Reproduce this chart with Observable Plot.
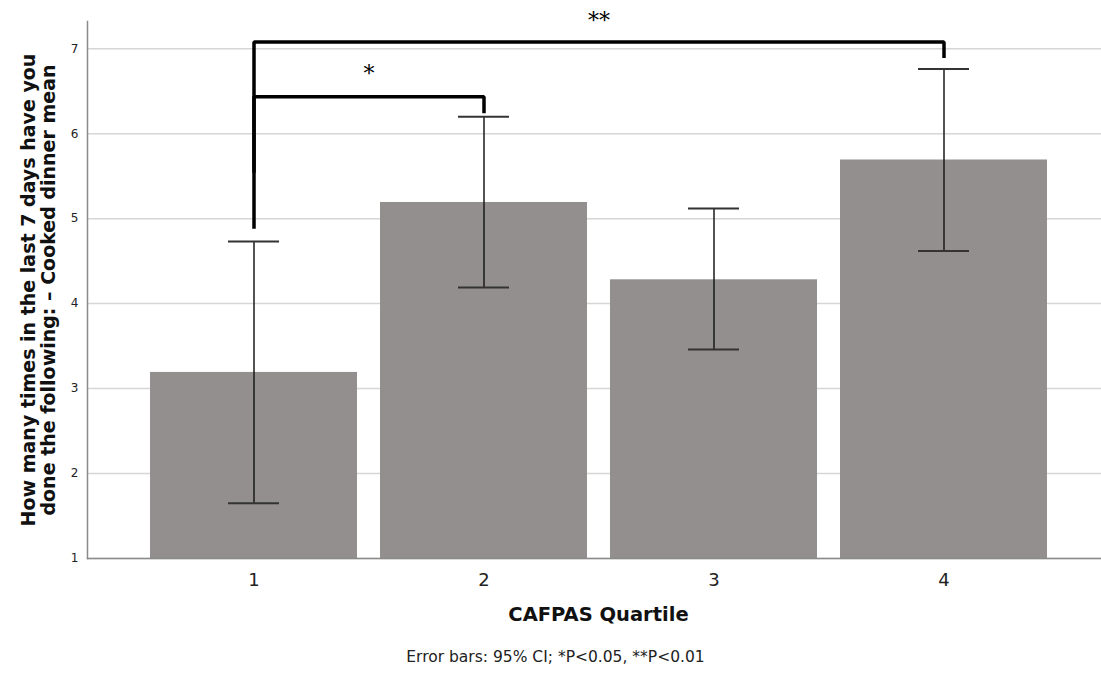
<!DOCTYPE html>
<html>
<head>
<meta charset="utf-8">
<script src="https://cdn.jsdelivr.net/npm/d3@7"></script>
<script src="https://cdn.jsdelivr.net/npm/@observablehq/plot@0.6"></script>
<style>
  html, body { margin: 0; padding: 0; background: #fff; }
  svg { display: block; }
</style>
</head>
<body>
<div id="chart"></div>
<script>
// Data
const quartiles = ["1", "2", "3", "4"];
const means = [3.19, 5.19, 4.28, 5.69];
const ciLow = [1.65, 4.19, 3.46, 4.62];
const ciHigh = [4.73, 6.20, 5.12, 6.76];
const yTicks = [1, 2, 3, 4, 5, 6, 7];

// Significance brackets
const bracketFrom = ["1", "1"];
const bracketTo = ["2", "4"];
const bracketTop = [6.435, 7.08];
const bracketLeftEnd = [4.88, 5.54];
const bracketRightEnd = [6.24, 6.89];
const bracketLabels = ["*", "**"];
const bracketLabelY = [6.70, 7.33];

const yTitle = "How many times in the last 7 days have you\ndone the following: \u2013 Cooked dinner mean";
const xTitle = "CAFPAS Quartile";
const caption = "Error bars: 95% CI; *P<0.05, **P<0.01";

const rows = quartiles.map((q, i) => ({q, mean: means[i], lo: ciLow[i], hi: ciHigh[i]}));

const bracketPaths = bracketFrom.map((a, i) => [
  {q: a, y: bracketLeftEnd[i], id: i},
  {q: a, y: bracketTop[i], id: i},
  {q: bracketTo[i], y: bracketTop[i], id: i},
  {q: bracketTo[i], y: bracketRightEnd[i], id: i}
]).flat();

const bracketText = bracketFrom.map((a, i) => ({
  a, b: bracketTo[i], label: bracketLabels[i], y: bracketLabelY[i]
}));

const font = "'DejaVu Sans', sans-serif";

const chart = Plot.plot({
  width: 1101,
  height: 673,
  marginLeft: 87,
  marginRight: 0,
  marginTop: 21,
  marginBottom: 115,
  style: {fontFamily: font, background: "#fff", overflow: "visible"},
  x: {domain: quartiles, range: [127, 1070], padding: 0.1},
  y: {domain: [1, 7.32]},
  marks: [
    Plot.ruleY(yTicks, {stroke: "#d6d6d6", strokeWidth: 1.5}),
    Plot.barY(rows, {x: "q", y1: 1, y2: "mean", fill: "#928f8e"}),
    Plot.ruleX(rows, {x: "q", y1: "lo", y2: "hi", stroke: "#1a1a1a", strokeWidth: 1.5}),
    Plot.tickY(rows, {x: "q", y: "lo", stroke: "#333", strokeWidth: 2, insetLeft: 78, insetRight: 78}),
    Plot.tickY(rows, {x: "q", y: "hi", stroke: "#333", strokeWidth: 2, insetLeft: 78, insetRight: 78}),
    Plot.frame({anchor: "left", stroke: "#8a8a8a", strokeWidth: 1.5}),
    Plot.frame({anchor: "bottom", stroke: "#8a8a8a", strokeWidth: 1.5}),
    Plot.axisY(yTicks, {tickSize: 0, tickPadding: 9, fontSize: 12, fill: "#222", label: null, tickFormat: d => String(d)}),
    Plot.axisX({tickSize: 0, tickPadding: 15, fontSize: 18, fill: "#222", label: null}),
    Plot.line(bracketPaths, {x: "q", y: "y", z: "id", stroke: "#000", strokeWidth: 3.5, strokeLinejoin: "miter", strokeLinecap: "butt"}),
    Plot.text(bracketText, {
      x: d => d.a, y: "y", text: "label",
      dx: 0, fontSize: 22, fill: "#000", fontFamily: "'DejaVu Serif', serif"
    }),
    Plot.text([yTitle], {
      frameAnchor: "left", rotate: -90, dx: -49, text: d => d, fontSize: 19,
      fontWeight: "bold", fill: "#111", lineAnchor: "middle", textAnchor: "middle", lineHeight: 1.08
    }),
    Plot.text([xTitle], {
      frameAnchor: "bottom", dy: 62, dx: 4, text: d => d, fontSize: 19.5, fontWeight: "bold", fill: "#111"
    }),
    Plot.text([caption], {
      frameAnchor: "bottom", dy: 103, dx: -39, text: d => d, fontSize: 15.5, fill: "#222"
    })
  ]
});

document.getElementById("chart").appendChild(chart);

// Center bracket labels between the bracket ends (via scales)
const xs = chart.scale("x");
const texts = chart.querySelectorAll("g[aria-label='text']")[0].querySelectorAll("text");
bracketText.forEach((d, i) => {
  const shift = (xs.apply(d.b) - xs.apply(d.a)) / 2;
  const t = texts[i];
  const tr = t.getAttribute("transform") || "";
  t.setAttribute("transform", tr + ` translate(${shift},0)`);
});
</script>
</body>
</html>
